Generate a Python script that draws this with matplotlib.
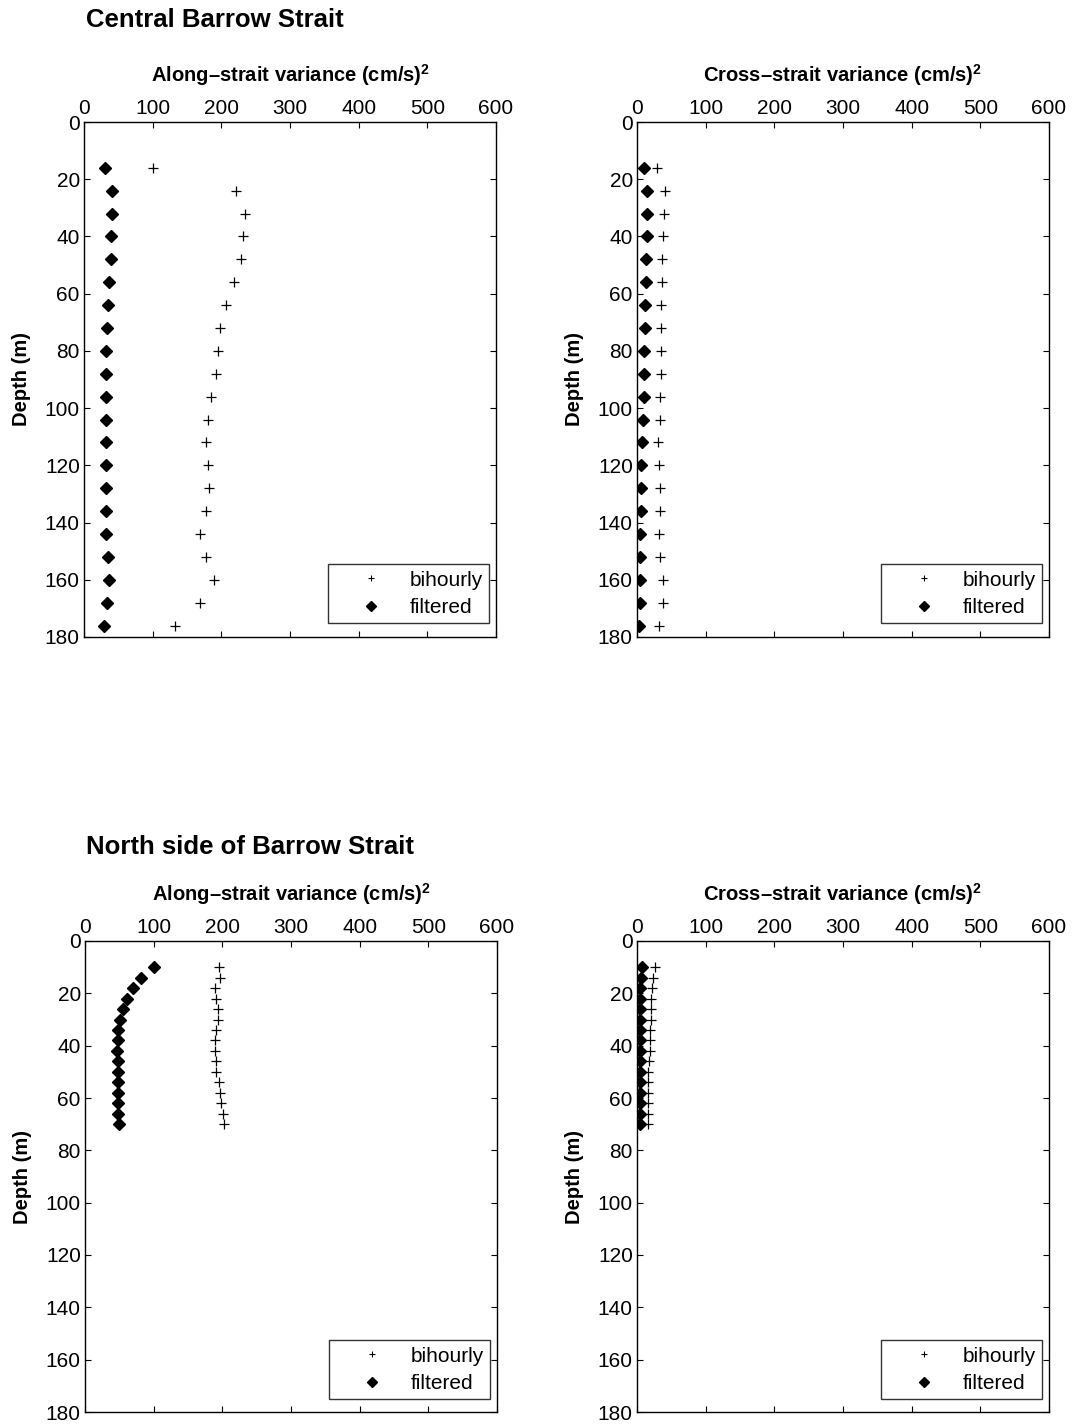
import matplotlib
matplotlib.use("Agg")
import matplotlib.pyplot as plt
from matplotlib.lines import Line2D
import numpy as np

plt.rcParams['font.family'] = ['Liberation Sans', 'DejaVu Sans']
plt.rcParams['mathtext.fontset'] = 'custom'
plt.rcParams['mathtext.rm'] = 'Liberation Sans'
plt.rcParams['mathtext.bf'] = 'Liberation Sans:bold'

# ---- Central Barrow Strait ----
depth_central = [16, 24, 32, 40, 48, 56, 64, 72, 80, 88, 96, 104, 112, 120, 128, 136, 144, 152, 160, 168, 176]
along_bihourly_central = [100, 222, 234, 232, 228, 218, 207, 198, 195, 192, 185, 180, 178, 180, 182, 177, 169, 177, 189, 169, 133]
along_filtered_central = [31, 41, 41.5, 40, 39, 37, 35, 33.5, 32.5, 32.5, 32, 31.5, 31.5, 32, 31.5, 31.5, 32, 34.5, 36.5, 33.5, 29]
cross_bihourly_central = [29.6, 41, 39, 38, 37, 37, 35, 35, 34.5, 34.5, 34, 33, 30.5, 31.5, 33, 33, 31.5, 34, 37.5, 38, 31.5]
cross_filtered_central = [9.7, 14.5, 14, 14, 13, 12.6, 11.6, 11, 10.7, 10.2, 9.7, 9.2, 7.2, 5.8, 6.3, 5.3, 4.4, 4.4, 4.4, 3.9, 2.4]

# ---- North side of Barrow Strait ----
depth_north = [10, 14, 18, 22, 26, 30, 34, 38, 42, 46, 50, 54, 58, 62, 66, 70]
along_bihourly_north = [195.5, 196, 190, 191, 193, 193.5, 191.5, 190, 189, 191, 191.5, 194.5, 197, 198.5, 201, 202]
along_filtered_north = [100.4, 81.5, 70, 61, 55.3, 51, 48.5, 47.5, 46.6, 47.5, 47.5, 48, 48.5, 48.5, 48.5, 49]
cross_bihourly_north = [26, 23.7, 22, 20, 20, 20, 19.4, 19.4, 18.4, 17.5, 16.5, 16.5, 16.5, 16.5, 16, 16.5]
cross_filtered_north = [6.8, 5.3, 4.9, 4.4, 4.9, 4.9, 4.4, 4.4, 4.4, 4.4, 4.4, 4.4, 4.4, 4.4, 4.4, 4.9]

x_ticks = [0, 100, 200, 300, 400, 500, 600]
y_ticks = [0, 20, 40, 60, 80, 100, 120, 140, 160, 180]
along_label = 'Along\u2013strait variance (cm/s)$^{\\mathbf{2}}$'
cross_label = 'Cross\u2013strait variance (cm/s)$^{\\mathbf{2}}$'

W, H = 1076, 1425
fig = plt.figure(figsize=(W / 100, H / 100), dpi=100)

def ax_at(x0, y0, x1, y1):
    return fig.add_axes([x0 / W, 1 - y1 / H, (x1 - x0) / W, (y1 - y0) / H])

def style(ax, xlabel):
    ax.set_xlim(0, 600)
    ax.set_ylim(180, 0)
    ax.set_xticks(x_ticks)
    ax.set_yticks(y_ticks)
    ax.xaxis.tick_top()
    ax.xaxis.set_label_position('top')
    ax.tick_params(direction='in', top=True, bottom=True, left=True, right=True,
                   labeltop=True, labelbottom=False, labelsize=15, length=4, width=0.8, pad=3)
    ax.set_xlabel(xlabel, fontsize=14.5, fontweight='bold', labelpad=12)
    ax.set_ylabel('Depth (m)', fontsize=14.5, fontweight='bold', labelpad=10)
    for s in ax.spines.values():
        s.set_linewidth(1.0)
    handles = [Line2D([], [], marker='+', ls='none', color='k', ms=5, mew=0.8),
               Line2D([], [], marker='D', ls='none', color='k', ms=5)]
    leg = ax.legend(handles, ['bihourly', 'filtered'], loc='lower right',
                    bbox_to_anchor=(0.983, 0.027), fontsize=15, frameon=True,
                    fancybox=False, edgecolor='k', handlelength=3.5, handletextpad=0.1,
                    borderpad=0.3, labelspacing=0.4, borderaxespad=0)
    leg.get_frame().set_linewidth(1.0)

def plot_pair(ax, depth, bih, fil):
    ax.plot(bih, depth, ls='none', marker='+', color='k', ms=7, mew=0.9)
    ax.plot(fil, depth, ls='none', marker='D', color='k', ms=6)

ax1 = ax_at(84, 122, 496, 637)
plot_pair(ax1, depth_central, along_bihourly_central, along_filtered_central)
style(ax1, along_label)

ax2 = ax_at(637, 122, 1049, 637)
plot_pair(ax2, depth_central, cross_bihourly_central, cross_filtered_central)
style(ax2, cross_label)

ax3 = ax_at(85, 941, 497, 1412)
plot_pair(ax3, depth_north, along_bihourly_north, along_filtered_north)
style(ax3, along_label)

ax4 = ax_at(637, 941, 1049, 1412)
plot_pair(ax4, depth_north, cross_bihourly_north, cross_filtered_north)
style(ax4, cross_label)

fig.text(86 / W, 1 - 20 / H, 'Central Barrow Strait', fontsize=18.5, fontweight='bold',
         ha='left', va='center')
fig.text(86 / W, 1 - 847 / H, 'North side of Barrow Strait', fontsize=18.5, fontweight='bold',
         ha='left', va='center')

fig.savefig('out.png', dpi=100, facecolor='white')
